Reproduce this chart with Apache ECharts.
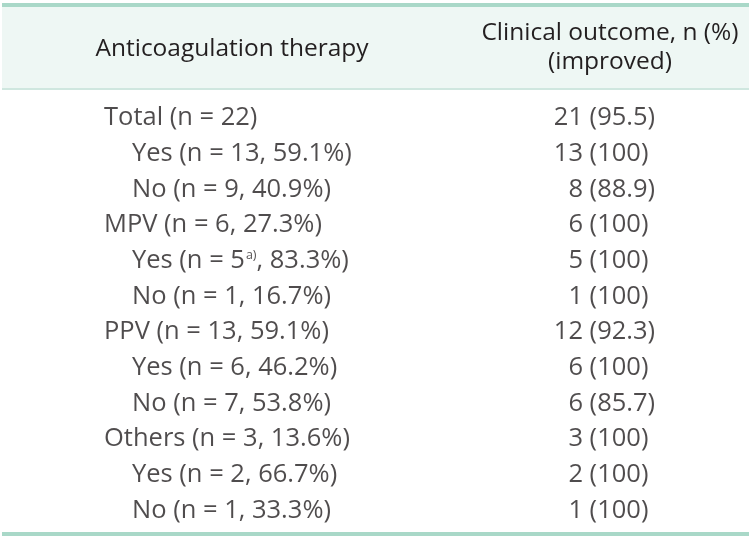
<!DOCTYPE html>
<html>
<head>
<meta charset="utf-8">
<script src="https://cdn.jsdelivr.net/npm/echarts@6/dist/echarts.min.js"></script>
<style>
html,body{margin:0;padding:0;background:#fff;}
#chart{width:752px;height:540px;}
</style>
</head>
<body>
<div id="chart"></div>
<script>
// ---- Data ----
const headers = ['Anticoagulation therapy', 'Clinical outcome, n (%)\n(improved)'];
const groups = ['Total', 'Yes', 'No', 'MPV', 'Yes', 'No', 'PPV', 'Yes', 'No', 'Others', 'Yes', 'No'];
const levels = [0, 1, 1, 0, 1, 1, 0, 1, 1, 0, 1, 1];
const groupN = [22, 13, 9, 6, 5, 1, 13, 6, 7, 3, 2, 1];
const groupPct = [null, '59.1', '40.9', '27.3', '83.3', '16.7', '59.1', '46.2', '53.8', '13.6', '66.7', '33.3'];
const notes = ['', '', '', '', 'a)', '', '', '', '', '', '', ''];
const improvedN = [21, 13, 8, 6, 5, 1, 12, 6, 6, 3, 2, 1];
const improvedPct = ['95.5', '100', '88.9', '100', '100', '100', '92.3', '100', '85.7', '100', '100', '100'];
const columns = ['therapy', 'outcome'];

// ---- Styles ----
const FONT = 'Open Sans';
const FS = 25.5;
const FSH = 24.5;
const TXT = '#231f20';
const rowIdx = groups.map((g, i) => String(i));

function rowLabel(i) {
  const note = notes[i] ? '{sup|' + notes[i] + '}' : '';
  const pct = groupPct[i] !== null ? ', ' + groupPct[i] + '%' : '';
  return '{t|' + groups[i] + ' (n = ' + groupN[i] + '}' + note + '{t|' + pct + ')}';
}

const rich = {
  t: { fontFamily: FONT, fontSize: FS, color: TXT, lineHeight: 30 },
  sup: { fontFamily: FONT, fontSize: 12.5, color: TXT, lineHeight: 30, verticalAlign: 'top', padding: [3, 0, 0, 1] }
};
const labelBase = { show: true, position: 'inside', verticalAlign: 'middle', fontFamily: FONT, fontSize: FS, color: TXT };

const chart = echarts.init(document.getElementById('chart'), null, { renderer: 'canvas' });
chart.setOption({
  animation: false,
  backgroundColor: '#ffffff',
  grid: { left: 104, right: 198, top: 100, bottom: 11.5 },
  xAxis: { type: 'category', data: columns, boundaryGap: false, show: false },
  yAxis: { type: 'category', data: rowIdx, inverse: true, show: false },
  graphic: [
    { type: 'rect', silent: true, shape: { x: 2, y: 7, width: 747, height: 81 }, style: { fill: '#eef7f4' } },
    { type: 'rect', silent: true, shape: { x: 2, y: 3, width: 747, height: 4 }, style: { fill: '#a9d8c8' } },
    { type: 'rect', silent: true, shape: { x: 2, y: 88, width: 747, height: 2 }, style: { fill: '#cfe7df' } },
    { type: 'rect', silent: true, shape: { x: 2, y: 532, width: 747, height: 4 }, style: { fill: '#a9d8c8' } },
    { type: 'text', silent: true, x: 232, y: 49, style: { text: headers[0], fontFamily: FONT, fontSize: FSH, fill: TXT, align: 'center', verticalAlign: 'middle' } },
    { type: 'text', silent: true, x: 610, y: 48, style: { text: headers[1], fontFamily: FONT, fontSize: FSH, lineHeight: 29, fill: TXT, align: 'center', verticalAlign: 'middle' } }
  ],
  series: [
    {
      type: 'scatter', silent: true, symbolSize: 1, itemStyle: { color: 'rgba(0,0,0,0)' },
      data: groups.map((g, i) => ({ value: [columns[0], rowIdx[i]], label: { offset: [levels[i] * 28, 0] } })),
      label: Object.assign({}, labelBase, { align: 'left', formatter: p => rowLabel(p.dataIndex), rich: rich })
    },
    {
      type: 'scatter', silent: true, symbolSize: 1, itemStyle: { color: 'rgba(0,0,0,0)' },
      data: groups.map((g, i) => [columns[1], rowIdx[i]]),
      label: Object.assign({}, labelBase, { align: 'right', offset: [29, 0], formatter: p => String(improvedN[p.dataIndex]) })
    },
    {
      type: 'scatter', silent: true, symbolSize: 1, itemStyle: { color: 'rgba(0,0,0,0)' },
      data: groups.map((g, i) => [columns[1], rowIdx[i]]),
      label: Object.assign({}, labelBase, { align: 'left', offset: [29, 0], formatter: p => ' (' + improvedPct[p.dataIndex] + ')' })
    }
  ]
});
</script>
</body>
</html>
